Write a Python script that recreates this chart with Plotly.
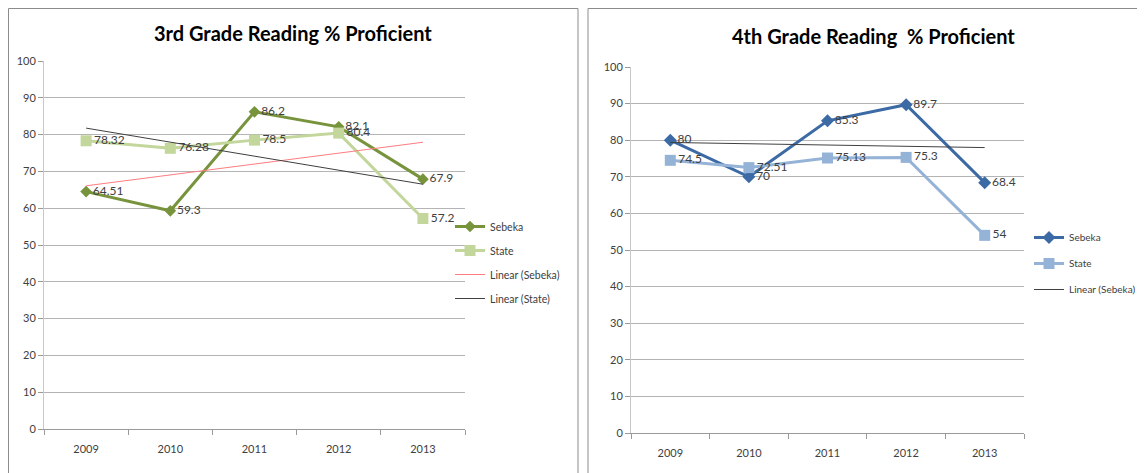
import plotly.graph_objects as go
import numpy as np

years = ["2009", "2010", "2011", "2012", "2013"]
g3_sebeka = [64.51, 59.3, 86.2, 82.1, 67.9]
g3_state = [78.32, 76.28, 78.5, 80.4, 57.2]
g4_sebeka = [80, 70, 85.3, 89.7, 68.4]
g4_state = [74.5, 72.51, 75.13, 75.3, 54]
g3_title = "3rd Grade Reading % Proficient"
g4_title = "4th Grade Reading\u00a0 % Proficient"
y_ticks = [0, 10, 20, 30, 40, 50, 60, 70, 80, 90, 100]

# page body has an 8px margin; the figure fills the rest of the window
OFF = 8
W, H = 1145 - OFF, 473 - OFF
FONT = "Lato"
TXT = "#404040"


def px(x):
    return (x - OFF) / W


def py(y):
    return 1 - (y - OFF) / H


def trend(vals):
    idx = np.arange(1, len(vals) + 1)
    m, b = np.polyfit(idx, vals, 1)
    return list(m * idx + b)


def labels(vals):
    return [f"{v:g}" for v in vals]


fig = go.Figure()

# ---- left chart (3rd grade)
fig.add_trace(go.Scatter(
    x=years, y=g3_sebeka, name="Sebeka", mode="lines+markers+text",
    text=labels(g3_sebeka), textposition="middle right",
    textfont=dict(family=FONT, size=12, color=TXT),
    line=dict(color="#77933C", width=3),
    marker=dict(symbol="diamond", size=9, color="#77933C"),
    xaxis="x", yaxis="y", legend="legend", legendgroup="a1"))
fig.add_trace(go.Scatter(
    x=years, y=g3_state, name="State", mode="lines+markers+text",
    text=labels(g3_state), textposition="middle right",
    textfont=dict(family=FONT, size=12, color=TXT),
    line=dict(color="#C3D69B", width=3),
    marker=dict(symbol="square", size=11, color="#C3D69B"),
    xaxis="x", yaxis="y", legend="legend", legendgroup="a2"))
fig.add_trace(go.Scatter(
    x=years, y=trend(g3_sebeka), name="Linear (Sebeka)", mode="lines",
    line=dict(color="#FF7C80", width=1),
    xaxis="x", yaxis="y", legend="legend", legendgroup="a3"))
fig.add_trace(go.Scatter(
    x=years, y=trend(g3_state), name="Linear (State)", mode="lines",
    line=dict(color="#404040", width=1),
    xaxis="x", yaxis="y", legend="legend", legendgroup="a4"))

# ---- right chart (4th grade)
fig.add_trace(go.Scatter(
    x=years, y=g4_sebeka, name="Sebeka", mode="lines+markers+text",
    text=labels(g4_sebeka), textposition="middle right",
    textfont=dict(family=FONT, size=12, color=TXT),
    line=dict(color="#3C6AA5", width=3),
    marker=dict(symbol="diamond", size=10, color="#3C6AA5"),
    xaxis="x2", yaxis="y2", legend="legend2", legendgroup="b1"))
fig.add_trace(go.Scatter(
    x=years, y=g4_state, name="State", mode="lines+markers+text",
    text=labels(g4_state), textposition="middle right",
    textfont=dict(family=FONT, size=12, color=TXT),
    line=dict(color="#95B3D7", width=3),
    marker=dict(symbol="square", size=11, color="#95B3D7"),
    xaxis="x2", yaxis="y2", legend="legend2", legendgroup="b2"))
fig.add_trace(go.Scatter(
    x=years, y=trend(g4_sebeka), name="Linear (Sebeka)", mode="lines",
    line=dict(color="#404040", width=1),
    xaxis="x2", yaxis="y2", legend="legend2", legendgroup="b3"))

xcommon = dict(type="category", range=[-0.5, 4.5], showline=True,
               linecolor="#9A9A9A", ticks="outside", tickson="boundaries",
               ticklen=5, tickcolor="#9A9A9A", showgrid=False,
               automargin=False, ticklabelstandoff=10,
               tickfont=dict(family=FONT, size=11, color=TXT))
ycommon = dict(range=[0, 100], tickvals=y_ticks, showline=True,
               linecolor="#C8C8C8", ticks="outside", ticklen=5,
               tickcolor="#9A9A9A", showgrid=True, gridcolor="#B4B4B4",
               gridwidth=1, zeroline=False, automargin=False,
               tickfont=dict(family=FONT, size=11, color=TXT))

BORDER = dict(color="#8C8C8C", width=1)

fig.update_layout(
    width=W, height=H, autosize=False,
    margin=dict(l=0, r=0, t=0, b=0, autoexpand=False),
    paper_bgcolor="white", plot_bgcolor="white",
    font=dict(family=FONT, color=TXT),
    xaxis=dict(domain=[px(44), px(465)], anchor="y", **xcommon),
    yaxis=dict(domain=[py(429), py(61)], anchor="x", **ycommon),
    xaxis2=dict(domain=[px(631), px(1024)], anchor="y2", **xcommon),
    yaxis2=dict(domain=[py(433), py(67)], anchor="x2", **ycommon),
    legend=dict(x=px(450), y=py(212), xanchor="left", yanchor="top",
                bgcolor="rgba(0,0,0,0)", tracegroupgap=5,
                traceorder="grouped",
                font=dict(family=FONT, size=10.5, color=TXT)),
    legend2=dict(x=px(1029), y=py(223), xanchor="left", yanchor="top",
                 bgcolor="rgba(0,0,0,0)", tracegroupgap=7,
                 traceorder="grouped",
                 font=dict(family=FONT, size=10, color=TXT)),
    showlegend=True,
    annotations=[
        dict(text=f"<b>{g3_title}</b>", x=px(293), y=py(33), xref="paper",
             yref="paper", xanchor="center", yanchor="middle",
             showarrow=False,
             font=dict(family=FONT, size=20, color="#000000")),
        dict(text=f"<b>{g4_title}</b>", x=px(873), y=py(36), xref="paper",
             yref="paper", xanchor="center", yanchor="middle",
             showarrow=False,
             font=dict(family=FONT, size=20, color="#000000")),
    ],
    shapes=[
        # left chart frame (left, top, right edges)
        dict(type="line", xref="paper", yref="paper", x0=px(8.5), x1=px(8.5),
             y0=0, y1=py(8.5), line=BORDER),
        dict(type="line", xref="paper", yref="paper", x0=px(8.5), x1=px(578),
             y0=py(8.5), y1=py(8.5), line=BORDER),
        dict(type="line", xref="paper", yref="paper", x0=px(578), x1=px(578),
             y0=0, y1=py(8.5), line=BORDER),
        # right chart frame (left, top edges)
        dict(type="line", xref="paper", yref="paper", x0=px(588), x1=px(588),
             y0=0, y1=py(8.5), line=BORDER),
        dict(type="line", xref="paper", yref="paper", x0=px(588), x1=1,
             y0=py(8.5), y1=py(8.5), line=BORDER),
    ],
)

fig.write_html("out.html")
